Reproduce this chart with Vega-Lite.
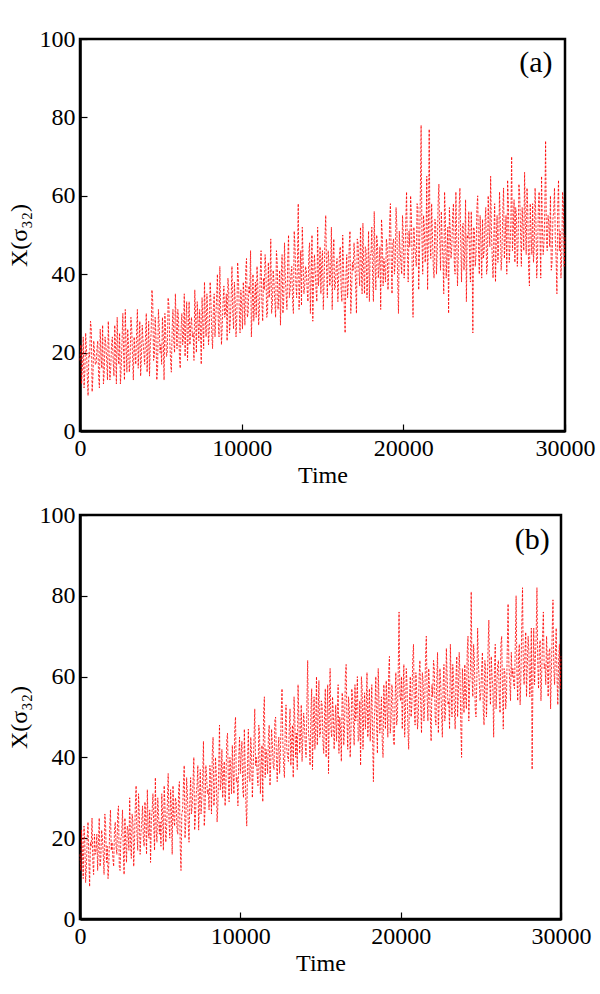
{
"$schema": "https://vega.github.io/schema/vega-lite/v6.json",
"padding": {"left": 5, "top": 25, "right": 5, "bottom": 5},
"background": "white",
"config": {
 "font": "Liberation Serif",
 "view": {"stroke": "black", "strokeWidth": 2.5},
 "axis": {"grid": false, "domainColor": "black", "domainWidth": 2.5, "tickColor": "black", "tickWidth": 1.2, "tickSize": -7, "labelFont": "Liberation Serif", "labelFontSize": 24, "labelColor": "black", "titleFont": "Liberation Serif", "titleFontSize": 24, "titleFontWeight": "normal", "titleColor": "black", "labelFlush": false, "labelPadding": 12}
},
"spacing": 12,
"datasets": {
"a": [
{"t":0,"v":18},{"t":50,"v":22},{"t":100,"v":12},{"t":150,"v":16},{"t":200,"v":24},{"t":250,"v":11},{"t":300,"v":15},{"t":350,"v":25},{"t":400,"v":21},{"t":450,"v":14},{"t":500,"v":9},{"t":550,"v":20},{"t":600,"v":19},{"t":650,"v":28},{"t":700,"v":26},{"t":750,"v":10},{"t":800,"v":14},{"t":850,"v":23},{"t":900,"v":20},{"t":950,"v":17},
{"t":1000,"v":17},{"t":1050,"v":21},{"t":1100,"v":23},{"t":1150,"v":14},{"t":1200,"v":11},{"t":1250,"v":26},{"t":1300,"v":19},{"t":1350,"v":16},{"t":1400,"v":27},{"t":1450,"v":12},{"t":1500,"v":15},{"t":1550,"v":24},{"t":1600,"v":22},{"t":1650,"v":18},{"t":1700,"v":13},{"t":1750,"v":28},{"t":1800,"v":20},{"t":1850,"v":13},{"t":1900,"v":16},{"t":1950,"v":22},
{"t":2000,"v":24},{"t":2050,"v":18},{"t":2100,"v":14},{"t":2150,"v":27},{"t":2200,"v":21},{"t":2250,"v":12},{"t":2300,"v":29},{"t":2350,"v":20},{"t":2400,"v":17},{"t":2450,"v":25},{"t":2500,"v":12},{"t":2550,"v":16},{"t":2600,"v":23},{"t":2650,"v":30},{"t":2700,"v":19},{"t":2750,"v":13},{"t":2800,"v":31},{"t":2850,"v":22},{"t":2900,"v":15},{"t":2950,"v":26},
{"t":3000,"v":22},{"t":3050,"v":15},{"t":3100,"v":18},{"t":3150,"v":29},{"t":3200,"v":26},{"t":3250,"v":19},{"t":3300,"v":13},{"t":3350,"v":24},{"t":3400,"v":20},{"t":3450,"v":17},{"t":3500,"v":25},{"t":3550,"v":31},{"t":3600,"v":16},{"t":3650,"v":22},{"t":3700,"v":28},{"t":3750,"v":14},{"t":3800,"v":19},{"t":3850,"v":27},{"t":3900,"v":23},{"t":3950,"v":20},
{"t":4000,"v":17},{"t":4050,"v":24},{"t":4100,"v":30},{"t":4150,"v":15},{"t":4200,"v":21},{"t":4250,"v":28},{"t":4300,"v":14},{"t":4350,"v":22},{"t":4400,"v":25},{"t":4450,"v":36},{"t":4500,"v":33},{"t":4550,"v":18},{"t":4600,"v":19},{"t":4650,"v":29},{"t":4700,"v":24},{"t":4750,"v":13},{"t":4800,"v":16},{"t":4850,"v":31},{"t":4900,"v":27},{"t":4950,"v":20},
{"t":5000,"v":22},{"t":5050,"v":17},{"t":5100,"v":29},{"t":5150,"v":24},{"t":5200,"v":13},{"t":5250,"v":30},{"t":5300,"v":25},{"t":5350,"v":19},{"t":5400,"v":20},{"t":5450,"v":34},{"t":5500,"v":32},{"t":5550,"v":23},{"t":5600,"v":18},{"t":5650,"v":15},{"t":5700,"v":26},{"t":5750,"v":31},{"t":5800,"v":23},{"t":5850,"v":20},{"t":5900,"v":35},{"t":5950,"v":27},
{"t":6000,"v":21},{"t":6050,"v":31},{"t":6100,"v":28},{"t":6150,"v":19},{"t":6200,"v":16},{"t":6250,"v":26},{"t":6300,"v":30},{"t":6350,"v":22},{"t":6400,"v":24},{"t":6450,"v":35},{"t":6500,"v":19},{"t":6550,"v":28},{"t":6600,"v":33},{"t":6650,"v":18},{"t":6700,"v":26},{"t":6750,"v":33},{"t":6800,"v":22},{"t":6850,"v":27},{"t":6900,"v":29},{"t":6950,"v":24},
{"t":7000,"v":25},{"t":7050,"v":18},{"t":7100,"v":36},{"t":7150,"v":29},{"t":7200,"v":20},{"t":7250,"v":33},{"t":7300,"v":28},{"t":7350,"v":23},{"t":7400,"v":31},{"t":7450,"v":26},{"t":7500,"v":17},{"t":7550,"v":34},{"t":7600,"v":27},{"t":7650,"v":21},{"t":7700,"v":38},{"t":7750,"v":29},{"t":7800,"v":24},{"t":7850,"v":35},{"t":7900,"v":30},{"t":7950,"v":22},
{"t":8000,"v":26},{"t":8050,"v":38},{"t":8100,"v":33},{"t":8150,"v":25},{"t":8200,"v":21},{"t":8250,"v":31},{"t":8300,"v":35},{"t":8350,"v":24},{"t":8400,"v":29},{"t":8450,"v":34},{"t":8500,"v":40},{"t":8550,"v":28},{"t":8600,"v":24},{"t":8650,"v":42},{"t":8700,"v":31},{"t":8750,"v":22},{"t":8800,"v":27},{"t":8850,"v":33},{"t":8900,"v":37},{"t":8950,"v":29},
{"t":9000,"v":30},{"t":9050,"v":35},{"t":9100,"v":23},{"t":9150,"v":39},{"t":9200,"v":36},{"t":9250,"v":25},{"t":9300,"v":28},{"t":9350,"v":34},{"t":9400,"v":42},{"t":9450,"v":30},{"t":9500,"v":26},{"t":9550,"v":38},{"t":9600,"v":33},{"t":9650,"v":24},{"t":9700,"v":29},{"t":9750,"v":43},{"t":9800,"v":39},{"t":9850,"v":31},{"t":9900,"v":25},{"t":9950,"v":36},
{"t":10000,"v":32},{"t":10050,"v":26},{"t":10100,"v":38},{"t":10150,"v":34},{"t":10200,"v":27},{"t":10250,"v":41},{"t":10300,"v":44},{"t":10350,"v":29},{"t":10400,"v":30},{"t":10450,"v":37},{"t":10500,"v":35},{"t":10550,"v":46},{"t":10600,"v":24},{"t":10650,"v":31},{"t":10700,"v":40},{"t":10750,"v":28},{"t":10800,"v":33},{"t":10850,"v":38},{"t":10900,"v":29},{"t":10950,"v":42},
{"t":11000,"v":37},{"t":11050,"v":27},{"t":11100,"v":31},{"t":11150,"v":40},{"t":11200,"v":46},{"t":11250,"v":33},{"t":11300,"v":28},{"t":11350,"v":39},{"t":11400,"v":36},{"t":11450,"v":45},{"t":11500,"v":41},{"t":11550,"v":29},{"t":11600,"v":30},{"t":11650,"v":43},{"t":11700,"v":34},{"t":11750,"v":37},{"t":11800,"v":49},{"t":11850,"v":30},{"t":11900,"v":32},{"t":11950,"v":41},
{"t":12000,"v":38},{"t":12050,"v":33},{"t":12100,"v":29},{"t":12150,"v":46},{"t":12200,"v":43},{"t":12250,"v":31},{"t":12300,"v":35},{"t":12350,"v":41},{"t":12400,"v":27},{"t":12450,"v":39},{"t":12500,"v":45},{"t":12550,"v":30},{"t":12600,"v":33},{"t":12650,"v":48},{"t":12700,"v":39},{"t":12750,"v":35},{"t":12800,"v":31},{"t":12850,"v":44},{"t":12900,"v":50},{"t":12950,"v":34},
{"t":13000,"v":36},{"t":13050,"v":40},{"t":13100,"v":42},{"t":13150,"v":33},{"t":13200,"v":30},{"t":13250,"v":51},{"t":13300,"v":47},{"t":13350,"v":38},{"t":13400,"v":34},{"t":13450,"v":43},{"t":13500,"v":58},{"t":13550,"v":31},{"t":13600,"v":38},{"t":13650,"v":46},{"t":13700,"v":32},{"t":13750,"v":52},{"t":13800,"v":44},{"t":13850,"v":35},{"t":13900,"v":37},{"t":13950,"v":42},
{"t":14000,"v":41},{"t":14050,"v":36},{"t":14100,"v":33},{"t":14150,"v":45},{"t":14200,"v":48},{"t":14250,"v":30},{"t":14300,"v":39},{"t":14350,"v":50},{"t":14400,"v":28},{"t":14450,"v":38},{"t":14500,"v":45},{"t":14550,"v":41},{"t":14600,"v":36},{"t":14650,"v":33},{"t":14700,"v":52},{"t":14750,"v":37},{"t":14800,"v":40},{"t":14850,"v":47},{"t":14900,"v":35},{"t":14950,"v":43},
{"t":15000,"v":46},{"t":15050,"v":31},{"t":15100,"v":38},{"t":15150,"v":49},{"t":15200,"v":55},{"t":15250,"v":41},{"t":15300,"v":34},{"t":15350,"v":46},{"t":15400,"v":43},{"t":15450,"v":37},{"t":15500,"v":40},{"t":15550,"v":52},{"t":15600,"v":31},{"t":15650,"v":44},{"t":15700,"v":49},{"t":15750,"v":36},{"t":15800,"v":37},{"t":15850,"v":42},{"t":15900,"v":44},{"t":15950,"v":33},
{"t":16000,"v":39},{"t":16050,"v":45},{"t":16100,"v":47},{"t":16150,"v":36},{"t":16200,"v":33},{"t":16250,"v":50},{"t":16300,"v":42},{"t":16350,"v":31},{"t":16400,"v":25},{"t":16450,"v":40},{"t":16500,"v":45},{"t":16550,"v":34},{"t":16600,"v":38},{"t":16650,"v":47},{"t":16700,"v":51},{"t":16750,"v":30},{"t":16800,"v":36},{"t":16850,"v":43},{"t":16900,"v":41},{"t":16950,"v":48},
{"t":17000,"v":44},{"t":17050,"v":37},{"t":17100,"v":30},{"t":17150,"v":49},{"t":17200,"v":48},{"t":17250,"v":41},{"t":17300,"v":37},{"t":17350,"v":52},{"t":17400,"v":42},{"t":17450,"v":35},{"t":17500,"v":53},{"t":17550,"v":41},{"t":17600,"v":35},{"t":17650,"v":47},{"t":17700,"v":46},{"t":17750,"v":34},{"t":17800,"v":40},{"t":17850,"v":51},{"t":17900,"v":33},{"t":17950,"v":45},
{"t":18000,"v":45},{"t":18050,"v":52},{"t":18100,"v":39},{"t":18150,"v":33},{"t":18200,"v":56},{"t":18250,"v":43},{"t":18300,"v":36},{"t":18350,"v":50},{"t":18400,"v":48},{"t":18450,"v":39},{"t":18500,"v":42},{"t":18550,"v":47},{"t":18600,"v":31},{"t":18650,"v":54},{"t":18700,"v":50},{"t":18750,"v":37},{"t":18800,"v":44},{"t":18850,"v":41},{"t":18900,"v":38},{"t":18950,"v":49},
{"t":19000,"v":47},{"t":19050,"v":36},{"t":19100,"v":41},{"t":19150,"v":53},{"t":19200,"v":58},{"t":19250,"v":44},{"t":19300,"v":35},{"t":19350,"v":48},{"t":19400,"v":49},{"t":19450,"v":40},{"t":19500,"v":43},{"t":19550,"v":57},{"t":19600,"v":52},{"t":19650,"v":38},{"t":19700,"v":30},{"t":19750,"v":51},{"t":19800,"v":46},{"t":19850,"v":43},{"t":19900,"v":40},{"t":19950,"v":55},
{"t":20000,"v":50},{"t":20050,"v":39},{"t":20100,"v":44},{"t":20150,"v":53},{"t":20200,"v":61},{"t":20250,"v":46},{"t":20300,"v":38},{"t":20350,"v":51},{"t":20400,"v":47},{"t":20450,"v":60},{"t":20500,"v":55},{"t":20550,"v":41},{"t":20600,"v":29},{"t":20650,"v":52},{"t":20700,"v":48},{"t":20750,"v":45},{"t":20800,"v":42},{"t":20850,"v":58},{"t":20900,"v":57},{"t":20950,"v":36},
{"t":21000,"v":45},{"t":21050,"v":60},{"t":21100,"v":78},{"t":21150,"v":49},{"t":21200,"v":40},{"t":21250,"v":55},{"t":21300,"v":52},{"t":21350,"v":43},{"t":21400,"v":47},{"t":21450,"v":65},{"t":21500,"v":36},{"t":21550,"v":50},{"t":21600,"v":77},{"t":21650,"v":48},{"t":21700,"v":44},{"t":21750,"v":58},{"t":21800,"v":50},{"t":21850,"v":42},{"t":21900,"v":39},{"t":21950,"v":54},
{"t":22000,"v":53},{"t":22050,"v":40},{"t":22100,"v":46},{"t":22150,"v":58},{"t":22200,"v":63},{"t":22250,"v":49},{"t":22300,"v":41},{"t":22350,"v":56},{"t":22400,"v":49},{"t":22450,"v":44},{"t":22500,"v":35},{"t":22550,"v":61},{"t":22600,"v":55},{"t":22650,"v":39},{"t":22700,"v":45},{"t":22750,"v":52},{"t":22800,"v":30},{"t":22850,"v":57},{"t":22900,"v":51},{"t":22950,"v":44},
{"t":23000,"v":47},{"t":23050,"v":55},{"t":23100,"v":58},{"t":23150,"v":43},{"t":23200,"v":40},{"t":23250,"v":61},{"t":23300,"v":50},{"t":23350,"v":37},{"t":23400,"v":44},{"t":23450,"v":57},{"t":23500,"v":62},{"t":23550,"v":48},{"t":23600,"v":38},{"t":23650,"v":52},{"t":23700,"v":53},{"t":23750,"v":41},{"t":23800,"v":46},{"t":23850,"v":59},{"t":23900,"v":33},{"t":23950,"v":50},
{"t":24000,"v":49},{"t":24050,"v":56},{"t":24100,"v":43},{"t":24150,"v":38},{"t":24200,"v":56},{"t":24250,"v":47},{"t":24300,"v":25},{"t":24350,"v":52},{"t":24400,"v":51},{"t":24450,"v":42},{"t":24500,"v":45},{"t":24550,"v":57},{"t":24600,"v":60},{"t":24650,"v":46},{"t":24700,"v":40},{"t":24750,"v":55},{"t":24800,"v":48},{"t":24850,"v":39},{"t":24900,"v":54},{"t":24950,"v":44},
{"t":25000,"v":46},{"t":25050,"v":53},{"t":25100,"v":57},{"t":25150,"v":40},{"t":25200,"v":42},{"t":25250,"v":60},{"t":25300,"v":52},{"t":25350,"v":47},{"t":25400,"v":65},{"t":25450,"v":51},{"t":25500,"v":44},{"t":25550,"v":39},{"t":25600,"v":50},{"t":25650,"v":58},{"t":25700,"v":38},{"t":25750,"v":49},{"t":25800,"v":55},{"t":25850,"v":43},{"t":25900,"v":48},{"t":25950,"v":61},
{"t":26000,"v":53},{"t":26050,"v":41},{"t":26100,"v":45},{"t":26150,"v":56},{"t":26200,"v":62},{"t":26250,"v":44},{"t":26300,"v":49},{"t":26350,"v":55},{"t":26400,"v":40},{"t":26450,"v":64},{"t":26500,"v":58},{"t":26550,"v":43},{"t":26600,"v":47},{"t":26650,"v":53},{"t":26700,"v":70},{"t":26750,"v":46},{"t":26800,"v":51},{"t":26850,"v":59},{"t":26900,"v":43},{"t":26950,"v":57},
{"t":27000,"v":55},{"t":27050,"v":42},{"t":27100,"v":48},{"t":27150,"v":63},{"t":27200,"v":60},{"t":27250,"v":51},{"t":27300,"v":42},{"t":27350,"v":57},{"t":27400,"v":52},{"t":27450,"v":46},{"t":27500,"v":66},{"t":27550,"v":53},{"t":27600,"v":45},{"t":27650,"v":62},{"t":27700,"v":56},{"t":27750,"v":41},{"t":27800,"v":37},{"t":27850,"v":58},{"t":27900,"v":50},{"t":27950,"v":45},
{"t":28000,"v":58},{"t":28050,"v":43},{"t":28100,"v":47},{"t":28150,"v":62},{"t":28200,"v":54},{"t":28250,"v":39},{"t":28300,"v":44},{"t":28350,"v":57},{"t":28400,"v":61},{"t":28450,"v":50},{"t":28500,"v":39},{"t":28550,"v":65},{"t":28600,"v":52},{"t":28650,"v":45},{"t":28700,"v":48},{"t":28750,"v":56},{"t":28800,"v":74},{"t":28850,"v":49},{"t":28900,"v":46},{"t":28950,"v":55},
{"t":29000,"v":53},{"t":29050,"v":47},{"t":29100,"v":60},{"t":29150,"v":41},{"t":29200,"v":43},{"t":29250,"v":54},{"t":29300,"v":56},{"t":29350,"v":62},{"t":29400,"v":49},{"t":29450,"v":44},{"t":29500,"v":35},{"t":29550,"v":57},{"t":29600,"v":64},{"t":29650,"v":46},{"t":29700,"v":51},{"t":29750,"v":39},{"t":29800,"v":45},{"t":29850,"v":61},{"t":29900,"v":58},{"t":29950,"v":42},
{"t":30000,"v":50}
],
"b": [
{"t":0,"v":16},{"t":50,"v":12},{"t":100,"v":22},{"t":150,"v":17},{"t":200,"v":10},{"t":250,"v":23},{"t":300,"v":19},{"t":350,"v":9},{"t":400,"v":13},{"t":450,"v":20},{"t":500,"v":24},{"t":550,"v":15},{"t":600,"v":8},{"t":650,"v":19},{"t":700,"v":18},{"t":750,"v":25},{"t":800,"v":14},{"t":850,"v":11},{"t":900,"v":21},{"t":950,"v":16},
{"t":1000,"v":17},{"t":1050,"v":21},{"t":1100,"v":12},{"t":1150,"v":19},{"t":1200,"v":25},{"t":1250,"v":13},{"t":1300,"v":15},{"t":1350,"v":22},{"t":1400,"v":20},{"t":1450,"v":16},{"t":1500,"v":11},{"t":1550,"v":26},{"t":1600,"v":23},{"t":1650,"v":14},{"t":1700,"v":18},{"t":1750,"v":10},{"t":1800,"v":14},{"t":1850,"v":22},{"t":1900,"v":27},{"t":1950,"v":17},
{"t":2000,"v":19},{"t":2050,"v":15},{"t":2100,"v":13},{"t":2150,"v":22},{"t":2200,"v":24},{"t":2250,"v":18},{"t":2300,"v":16},{"t":2350,"v":26},{"t":2400,"v":28},{"t":2450,"v":13},{"t":2500,"v":12},{"t":2550,"v":20},{"t":2600,"v":21},{"t":2650,"v":27},{"t":2700,"v":17},{"t":2750,"v":11},{"t":2800,"v":25},{"t":2850,"v":19},{"t":2900,"v":14},{"t":2950,"v":23},
{"t":3000,"v":22},{"t":3050,"v":17},{"t":3100,"v":30},{"t":3150,"v":19},{"t":3200,"v":15},{"t":3250,"v":26},{"t":3300,"v":24},{"t":3350,"v":13},{"t":3400,"v":19},{"t":3450,"v":28},{"t":3500,"v":33},{"t":3550,"v":21},{"t":3600,"v":17},{"t":3650,"v":31},{"t":3700,"v":26},{"t":3750,"v":16},{"t":3800,"v":21},{"t":3850,"v":24},{"t":3900,"v":28},{"t":3950,"v":20},
{"t":4000,"v":18},{"t":4050,"v":29},{"t":4100,"v":25},{"t":4150,"v":16},{"t":4200,"v":32},{"t":4250,"v":22},{"t":4300,"v":20},{"t":4350,"v":27},{"t":4400,"v":14},{"t":4450,"v":24},{"t":4500,"v":27},{"t":4550,"v":31},{"t":4600,"v":23},{"t":4650,"v":17},{"t":4700,"v":35},{"t":4750,"v":22},{"t":4800,"v":19},{"t":4850,"v":30},{"t":4900,"v":26},{"t":4950,"v":21},
{"t":5000,"v":24},{"t":5050,"v":18},{"t":5100,"v":31},{"t":5150,"v":26},{"t":5200,"v":17},{"t":5250,"v":33},{"t":5300,"v":28},{"t":5350,"v":19},{"t":5400,"v":22},{"t":5450,"v":29},{"t":5500,"v":36},{"t":5550,"v":24},{"t":5600,"v":20},{"t":5650,"v":32},{"t":5700,"v":27},{"t":5750,"v":16},{"t":5800,"v":33},{"t":5850,"v":25},{"t":5900,"v":23},{"t":5950,"v":30},
{"t":6000,"v":29},{"t":6050,"v":22},{"t":6100,"v":21},{"t":6150,"v":32},{"t":6200,"v":34},{"t":6250,"v":18},{"t":6300,"v":12},{"t":6350,"v":26},{"t":6400,"v":27},{"t":6450,"v":33},{"t":6500,"v":38},{"t":6550,"v":20},{"t":6600,"v":24},{"t":6650,"v":35},{"t":6700,"v":31},{"t":6750,"v":24},{"t":6800,"v":19},{"t":6850,"v":29},{"t":6900,"v":35},{"t":6950,"v":26},
{"t":7000,"v":28},{"t":7050,"v":34},{"t":7100,"v":40},{"t":7150,"v":22},{"t":7200,"v":25},{"t":7250,"v":31},{"t":7300,"v":33},{"t":7350,"v":38},{"t":7400,"v":22},{"t":7450,"v":29},{"t":7500,"v":37},{"t":7550,"v":26},{"t":7600,"v":30},{"t":7650,"v":35},{"t":7700,"v":44},{"t":7750,"v":23},{"t":7800,"v":27},{"t":7850,"v":38},{"t":7900,"v":35},{"t":7950,"v":31},
{"t":8000,"v":32},{"t":8050,"v":27},{"t":8100,"v":38},{"t":8150,"v":35},{"t":8200,"v":26},{"t":8250,"v":41},{"t":8300,"v":45},{"t":8350,"v":28},{"t":8400,"v":31},{"t":8450,"v":40},{"t":8500,"v":36},{"t":8550,"v":24},{"t":8600,"v":28},{"t":8650,"v":37},{"t":8700,"v":48},{"t":8750,"v":32},{"t":8800,"v":34},{"t":8850,"v":42},{"t":8900,"v":30},{"t":8950,"v":36},
{"t":9000,"v":39},{"t":9050,"v":28},{"t":9100,"v":33},{"t":9150,"v":44},{"t":9200,"v":46},{"t":9250,"v":35},{"t":9300,"v":29},{"t":9350,"v":40},{"t":9400,"v":37},{"t":9450,"v":31},{"t":9500,"v":43},{"t":9550,"v":36},{"t":9600,"v":31},{"t":9650,"v":47},{"t":9700,"v":50},{"t":9750,"v":34},{"t":9800,"v":35},{"t":9850,"v":28},{"t":9900,"v":40},{"t":9950,"v":45},
{"t":10000,"v":36},{"t":10050,"v":41},{"t":10100,"v":44},{"t":10150,"v":32},{"t":10200,"v":30},{"t":10250,"v":47},{"t":10300,"v":38},{"t":10350,"v":28},{"t":10400,"v":23},{"t":10450,"v":39},{"t":10500,"v":47},{"t":10550,"v":35},{"t":10600,"v":34},{"t":10650,"v":45},{"t":10700,"v":41},{"t":10750,"v":30},{"t":10800,"v":37},{"t":10850,"v":44},{"t":10900,"v":52},{"t":10950,"v":38},
{"t":11000,"v":40},{"t":11050,"v":36},{"t":11100,"v":33},{"t":11150,"v":48},{"t":11200,"v":46},{"t":11250,"v":31},{"t":11300,"v":38},{"t":11350,"v":43},{"t":11400,"v":29},{"t":11450,"v":51},{"t":11500,"v":55},{"t":11550,"v":35},{"t":11600,"v":42},{"t":11650,"v":40},{"t":11700,"v":36},{"t":11750,"v":45},{"t":11800,"v":48},{"t":11850,"v":33},{"t":11900,"v":39},{"t":11950,"v":47},
{"t":12000,"v":43},{"t":12050,"v":38},{"t":12100,"v":37},{"t":12150,"v":49},{"t":12200,"v":50},{"t":12250,"v":40},{"t":12300,"v":34},{"t":12350,"v":42},{"t":12400,"v":45},{"t":12450,"v":36},{"t":12500,"v":41},{"t":12550,"v":51},{"t":12600,"v":57},{"t":12650,"v":44},{"t":12700,"v":38},{"t":12750,"v":35},{"t":12800,"v":47},{"t":12850,"v":53},{"t":12900,"v":42},{"t":12950,"v":40},
{"t":13000,"v":39},{"t":13050,"v":47},{"t":13100,"v":52},{"t":13150,"v":38},{"t":13200,"v":44},{"t":13250,"v":48},{"t":13300,"v":35},{"t":13350,"v":55},{"t":13400,"v":49},{"t":13450,"v":40},{"t":13500,"v":46},{"t":13550,"v":37},{"t":13600,"v":58},{"t":13650,"v":50},{"t":13700,"v":41},{"t":13750,"v":45},{"t":13800,"v":53},{"t":13850,"v":39},{"t":13900,"v":45},{"t":13950,"v":51},
{"t":14000,"v":48},{"t":14050,"v":43},{"t":14100,"v":40},{"t":14150,"v":53},{"t":14200,"v":64},{"t":14250,"v":46},{"t":14300,"v":44},{"t":14350,"v":38},{"t":14400,"v":51},{"t":14450,"v":57},{"t":14500,"v":37},{"t":14550,"v":48},{"t":14600,"v":55},{"t":14650,"v":42},{"t":14700,"v":47},{"t":14750,"v":60},{"t":14800,"v":43},{"t":14850,"v":50},{"t":14900,"v":59},{"t":14950,"v":45},
{"t":15000,"v":46},{"t":15050,"v":54},{"t":15100,"v":53},{"t":15150,"v":44},{"t":15200,"v":41},{"t":15250,"v":50},{"t":15300,"v":57},{"t":15350,"v":40},{"t":15400,"v":49},{"t":15450,"v":58},{"t":15500,"v":36},{"t":15550,"v":52},{"t":15600,"v":62},{"t":15650,"v":47},{"t":15700,"v":45},{"t":15750,"v":55},{"t":15800,"v":51},{"t":15850,"v":42},{"t":15900,"v":48},{"t":15950,"v":53},
{"t":16000,"v":44},{"t":16050,"v":51},{"t":16100,"v":58},{"t":16150,"v":41},{"t":16200,"v":50},{"t":16250,"v":47},{"t":16300,"v":39},{"t":16350,"v":56},{"t":16400,"v":54},{"t":16450,"v":43},{"t":16500,"v":47},{"t":16550,"v":60},{"t":16600,"v":63},{"t":16650,"v":49},{"t":16700,"v":42},{"t":16750,"v":55},{"t":16800,"v":52},{"t":16850,"v":40},{"t":16900,"v":46},{"t":16950,"v":57},
{"t":17000,"v":55},{"t":17050,"v":48},{"t":17100,"v":43},{"t":17150,"v":58},{"t":17200,"v":49},{"t":17250,"v":53},{"t":17300,"v":60},{"t":17350,"v":44},{"t":17400,"v":45},{"t":17450,"v":54},{"t":17500,"v":38},{"t":17550,"v":60},{"t":17600,"v":57},{"t":17650,"v":42},{"t":17700,"v":51},{"t":17750,"v":56},{"t":17800,"v":47},{"t":17850,"v":52},{"t":17900,"v":61},{"t":17950,"v":45},
{"t":18000,"v":50},{"t":18050,"v":57},{"t":18100,"v":44},{"t":18150,"v":51},{"t":18200,"v":58},{"t":18250,"v":45},{"t":18300,"v":34},{"t":18350,"v":49},{"t":18400,"v":53},{"t":18450,"v":60},{"t":18500,"v":48},{"t":18550,"v":41},{"t":18600,"v":62},{"t":18650,"v":54},{"t":18700,"v":46},{"t":18750,"v":50},{"t":18800,"v":55},{"t":18850,"v":44},{"t":18900,"v":40},{"t":18950,"v":58},
{"t":19000,"v":52},{"t":19050,"v":47},{"t":19100,"v":59},{"t":19150,"v":53},{"t":19200,"v":45},{"t":19250,"v":61},{"t":19300,"v":65},{"t":19350,"v":46},{"t":19400,"v":49},{"t":19450,"v":58},{"t":19500,"v":56},{"t":19550,"v":44},{"t":19600,"v":43},{"t":19650,"v":54},{"t":19700,"v":61},{"t":19750,"v":48},{"t":19800,"v":50},{"t":19850,"v":62},{"t":19900,"v":76},{"t":19950,"v":55},
{"t":20000,"v":54},{"t":20050,"v":60},{"t":20100,"v":47},{"t":20150,"v":57},{"t":20200,"v":63},{"t":20250,"v":45},{"t":20300,"v":51},{"t":20350,"v":62},{"t":20400,"v":58},{"t":20450,"v":47},{"t":20500,"v":42},{"t":20550,"v":55},{"t":20600,"v":60},{"t":20650,"v":50},{"t":20700,"v":53},{"t":20750,"v":64},{"t":20800,"v":68},{"t":20850,"v":52},{"t":20900,"v":48},{"t":20950,"v":61},
{"t":21000,"v":56},{"t":21050,"v":47},{"t":21100,"v":50},{"t":21150,"v":60},{"t":21200,"v":64},{"t":21250,"v":53},{"t":21300,"v":46},{"t":21350,"v":61},{"t":21400,"v":59},{"t":21450,"v":49},{"t":21500,"v":53},{"t":21550,"v":65},{"t":21600,"v":70},{"t":21650,"v":55},{"t":21700,"v":49},{"t":21750,"v":62},{"t":21800,"v":57},{"t":21850,"v":50},{"t":21900,"v":44},{"t":21950,"v":58},
{"t":22000,"v":55},{"t":22050,"v":64},{"t":22100,"v":62},{"t":22150,"v":50},{"t":22200,"v":48},{"t":22250,"v":59},{"t":22300,"v":66},{"t":22350,"v":46},{"t":22400,"v":53},{"t":22450,"v":62},{"t":22500,"v":58},{"t":22550,"v":51},{"t":22600,"v":45},{"t":22650,"v":58},{"t":22700,"v":63},{"t":22750,"v":49},{"t":22800,"v":51},{"t":22850,"v":67},{"t":22900,"v":60},{"t":22950,"v":53},
{"t":23000,"v":54},{"t":23050,"v":47},{"t":23100,"v":68},{"t":23150,"v":58},{"t":23200,"v":50},{"t":23250,"v":63},{"t":23300,"v":59},{"t":23350,"v":52},{"t":23400,"v":47},{"t":23450,"v":60},{"t":23500,"v":65},{"t":23550,"v":50},{"t":23600,"v":56},{"t":23650,"v":66},{"t":23700,"v":61},{"t":23750,"v":48},{"t":23800,"v":40},{"t":23850,"v":62},{"t":23900,"v":57},{"t":23950,"v":51},
{"t":24000,"v":63},{"t":24050,"v":55},{"t":24100,"v":52},{"t":24150,"v":66},{"t":24200,"v":70},{"t":24250,"v":49},{"t":24300,"v":58},{"t":24350,"v":61},{"t":24400,"v":81},{"t":24450,"v":60},{"t":24500,"v":55},{"t":24550,"v":68},{"t":24600,"v":64},{"t":24650,"v":52},{"t":24700,"v":50},{"t":24750,"v":59},{"t":24800,"v":72},{"t":24850,"v":63},{"t":24900,"v":59},{"t":24950,"v":54},
{"t":25000,"v":56},{"t":25050,"v":62},{"t":25100,"v":66},{"t":25150,"v":52},{"t":25200,"v":48},{"t":25250,"v":64},{"t":25300,"v":62},{"t":25350,"v":50},{"t":25400,"v":57},{"t":25450,"v":67},{"t":25500,"v":74},{"t":25550,"v":59},{"t":25600,"v":53},{"t":25650,"v":65},{"t":25700,"v":60},{"t":25750,"v":57},{"t":25800,"v":45},{"t":25850,"v":62},{"t":25900,"v":68},{"t":25950,"v":52},
{"t":26000,"v":58},{"t":26050,"v":63},{"t":26100,"v":64},{"t":26150,"v":55},{"t":26200,"v":51},{"t":26250,"v":68},{"t":26300,"v":70},{"t":26350,"v":57},{"t":26400,"v":47},{"t":26450,"v":62},{"t":26500,"v":61},{"t":26550,"v":52},{"t":26600,"v":55},{"t":26650,"v":67},{"t":26700,"v":78},{"t":26750,"v":63},{"t":26800,"v":59},{"t":26850,"v":54},{"t":26900,"v":66},{"t":26950,"v":60},
{"t":27000,"v":62},{"t":27050,"v":58},{"t":27100,"v":57},{"t":27150,"v":68},{"t":27200,"v":80},{"t":27250,"v":61},{"t":27300,"v":54},{"t":27350,"v":65},{"t":27400,"v":68},{"t":27450,"v":53},{"t":27500,"v":60},{"t":27550,"v":72},{"t":27600,"v":82},{"t":27650,"v":62},{"t":27700,"v":58},{"t":27750,"v":66},{"t":27800,"v":71},{"t":27850,"v":55},{"t":27900,"v":63},{"t":27950,"v":70},
{"t":28000,"v":66},{"t":28050,"v":55},{"t":28100,"v":59},{"t":28150,"v":72},{"t":28200,"v":37},{"t":28250,"v":60},{"t":28300,"v":72},{"t":28350,"v":58},{"t":28400,"v":64},{"t":28450,"v":70},{"t":28500,"v":82},{"t":28550,"v":63},{"t":28600,"v":57},{"t":28650,"v":67},{"t":28700,"v":69},{"t":28750,"v":54},{"t":28800,"v":61},{"t":28850,"v":70},{"t":28900,"v":76},{"t":28950,"v":62},
{"t":29000,"v":63},{"t":29050,"v":58},{"t":29100,"v":70},{"t":29150,"v":64},{"t":29200,"v":55},{"t":29250,"v":66},{"t":29300,"v":67},{"t":29350,"v":52},{"t":29400,"v":61},{"t":29450,"v":71},{"t":29500,"v":79},{"t":29550,"v":62},{"t":29600,"v":58},{"t":29650,"v":66},{"t":29700,"v":72},{"t":29750,"v":60},{"t":29800,"v":53},{"t":29850,"v":64},{"t":29900,"v":68},{"t":29950,"v":57},
{"t":30000,"v":65}
]
},
"vconcat": [
{
 "width": 485, "height": 392,
 "layer": [
  {"data": {"name": "a"}, "mark": {"type": "line", "color": "#ff0000", "strokeWidth": 0.8, "strokeDash": [2.5, 1.5]},
   "encoding": {
    "x": {"field": "t", "type": "quantitative", "scale": {"domain": [0, 30000], "nice": false}, "axis": {"values": [0, 10000, 20000, 30000], "format": "d", "title": "Time", "titlePadding": 3}},
    "y": {"field": "v", "type": "quantitative", "scale": {"domain": [0, 100], "nice": false}, "axis": {"values": [0, 20, 40, 60, 80, 100], "title": "X(σ₃₂)", "titlePadding": 8}}
   }},
  {"data": {"values": [{"label": "(a)"}]}, "mark": {"type": "text", "fontSize": 30, "font": "Liberation Serif", "color": "black"},
   "encoding": {"x": {"datum": 28200, "type": "quantitative"}, "y": {"datum": 93.9, "type": "quantitative"}, "text": {"field": "label"}}}
 ]
},
{
 "width": 481, "height": 404,
 "layer": [
  {"data": {"name": "b"}, "mark": {"type": "line", "color": "#ff0000", "strokeWidth": 0.8, "strokeDash": [2.5, 1.5]},
   "encoding": {
    "x": {"field": "t", "type": "quantitative", "scale": {"domain": [0, 30000], "nice": false}, "axis": {"values": [0, 10000, 20000, 30000], "format": "d", "title": "Time", "titlePadding": 3}},
    "y": {"field": "v", "type": "quantitative", "scale": {"domain": [0, 100], "nice": false}, "axis": {"values": [0, 20, 40, 60, 80, 100], "title": "X(σ₃₂)", "titlePadding": 8}}
   }},
  {"data": {"values": [{"label": "(b)"}]}, "mark": {"type": "text", "fontSize": 30, "font": "Liberation Serif", "color": "black"},
   "encoding": {"x": {"datum": 28200, "type": "quantitative"}, "y": {"datum": 93.9, "type": "quantitative"}, "text": {"field": "label"}}}
 ]
}
]
}
